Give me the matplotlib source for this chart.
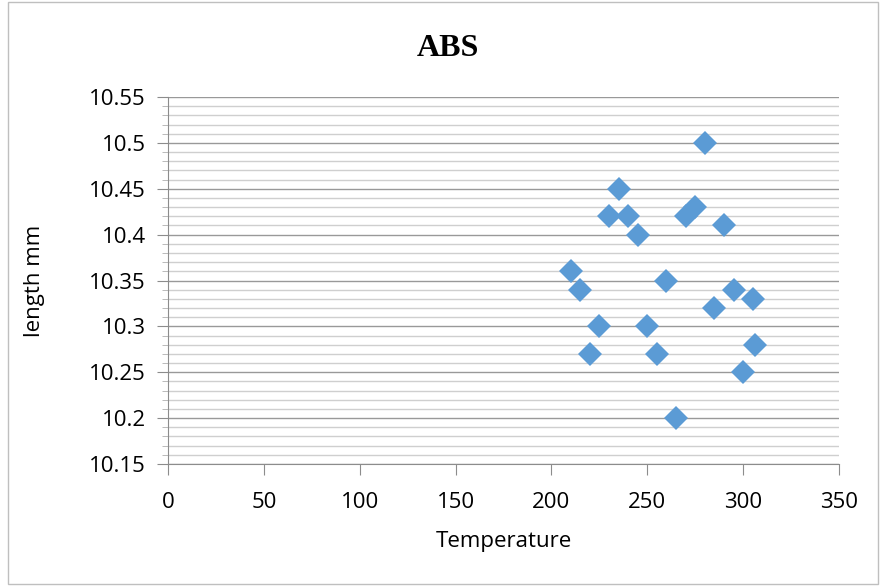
import matplotlib.pyplot as plt
from matplotlib.ticker import MultipleLocator
from matplotlib.patches import Rectangle

# ABS samples: temperature vs length
temperature = [210, 215, 220, 225, 230, 235, 240, 245, 250, 255, 260,
               265, 270, 275, 280, 285, 290, 295, 300, 305, 306]
length_mm = [10.36, 10.34, 10.27, 10.30, 10.42, 10.45, 10.42, 10.40, 10.30, 10.27, 10.35,
             10.20, 10.42, 10.43, 10.50, 10.32, 10.41, 10.34, 10.25, 10.33, 10.28]

x_ticks = [0, 50, 100, 150, 200, 250, 300, 350]
y_ticks = [10.15, 10.2, 10.25, 10.3, 10.35, 10.4, 10.45, 10.5, 10.55]
y_labels = ['10.15', '10.2', '10.25', '10.3', '10.35', '10.4', '10.45', '10.5', '10.55']

fig = plt.figure(figsize=(8.8, 5.86), dpi=100)
ax = fig.add_axes([168/880, 1 - 464/586, (839-168)/880, (464-97)/586])

ax.plot(temperature, length_mm, 'D', color='#5B9BD5', markersize=12, markeredgewidth=0)

ax.set_xlim(0, 350)
ax.set_ylim(10.15, 10.55)
ax.set_xticks(x_ticks)
ax.set_yticks(y_ticks)
ax.set_yticklabels(y_labels)
ax.yaxis.set_minor_locator(MultipleLocator(0.01))

ax.grid(True, which='major', axis='y', color='#999999', linewidth=1.0)
ax.grid(True, which='minor', axis='y', color='#cfcfcf', linewidth=1.0)
ax.set_axisbelow(True)

for s in ['top', 'right']:
    ax.spines[s].set_visible(False)
for s in ['left', 'bottom']:
    ax.spines[s].set_color('#8c8c8c')

ax.tick_params(axis='both', which='major', length=8, color='#8c8c8c', labelsize=16, pad=8)
ax.tick_params(axis='x', pad=12)
ax.tick_params(axis='y', which='minor', length=4, color='#b0b0b0')

for lbl in ax.get_xticklabels() + ax.get_yticklabels():
    lbl.set_family('Open Sans')

ax.set_xlabel('Temperature', fontsize=16, family='Open Sans', labelpad=13)
ax.set_ylabel('length mm', fontsize=16, family='Open Sans')
ax.yaxis.set_label_coords((45 - 168) / 671, 0.5)
fig.text(448/880, 1 - 48/586, 'ABS', ha='center', va='center',
         fontsize=23, fontweight='bold', family='Liberation Serif')

fig.patches.append(Rectangle((8/880, 2/586), 870/880, 582/586, transform=fig.transFigure,
                             fill=False, edgecolor='#bfbfbf', linewidth=1))

fig.savefig('out.png', dpi=100)
